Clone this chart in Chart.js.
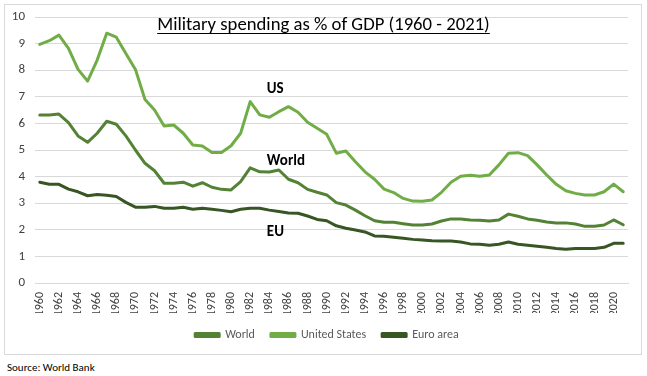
<!DOCTYPE html>
<html><head><meta charset="utf-8">
<script src="https://cdn.jsdelivr.net/npm/chart.js@4.4.1/dist/chart.umd.min.js"></script>
<style>
html,body{margin:0;padding:0;background:#fff;width:647px;height:376px;overflow:hidden;font-family:Carlito,Lato,sans-serif;}
#box{position:absolute;left:4px;top:4px;width:636px;height:349px;border:1px solid #d9d9d9;}
#wrap{position:absolute;left:0;top:0;width:636px;height:349px;}
#title{position:absolute;left:0;width:647px;top:12px;text-align:center;font-size:18.7px;color:#000;text-decoration:underline;text-underline-offset:3px;text-decoration-thickness:1px;}
#source{position:absolute;left:7px;top:361px;font-size:11px;color:#000;}
</style></head>
<body>
<div id="box"><div id="wrap"><canvas id="c" width="636" height="349"></canvas></div></div>
<div id="title">Military spending as % of GDP (1960 - 2021)</div>
<div id="source">Source: World Bank</div>
<script>
const years = [];
for (let y = 1960; y <= 2021; y++) years.push(String(y));
const world = [6.32,6.32,6.35,6.03,5.53,5.29,5.63,6.08,5.97,5.53,5.00,4.50,4.22,3.75,3.75,3.79,3.64,3.77,3.60,3.52,3.50,3.81,4.33,4.18,4.17,4.25,3.90,3.77,3.52,3.41,3.31,3.02,2.93,2.74,2.53,2.34,2.28,2.28,2.23,2.18,2.18,2.22,2.33,2.41,2.41,2.37,2.36,2.33,2.37,2.59,2.51,2.41,2.36,2.29,2.26,2.26,2.22,2.13,2.13,2.18,2.37,2.19];
const us = [8.97,9.11,9.32,8.82,8.03,7.59,8.38,9.39,9.24,8.63,8.03,6.90,6.50,5.90,5.94,5.63,5.19,5.15,4.91,4.91,5.16,5.63,6.82,6.32,6.23,6.44,6.63,6.42,6.04,5.82,5.59,4.88,4.96,4.56,4.18,3.90,3.53,3.40,3.18,3.08,3.07,3.12,3.41,3.79,4.01,4.05,4.01,4.06,4.44,4.88,4.90,4.79,4.44,4.06,3.71,3.47,3.37,3.31,3.31,3.43,3.72,3.43];
const euro = [3.79,3.71,3.71,3.53,3.43,3.28,3.33,3.30,3.25,3.03,2.85,2.85,2.88,2.81,2.81,2.85,2.77,2.81,2.77,2.73,2.68,2.77,2.81,2.81,2.74,2.69,2.63,2.62,2.52,2.39,2.34,2.15,2.06,1.99,1.92,1.77,1.76,1.72,1.68,1.64,1.62,1.59,1.58,1.58,1.54,1.47,1.46,1.42,1.46,1.54,1.46,1.42,1.38,1.34,1.30,1.27,1.30,1.30,1.30,1.34,1.49,1.49];
const yTicks = [0,1,2,3,4,5,6,7,8,9,10];
const seriesNames = ['World','United States','Euro area'];
const annLabels = ['US','World','EU'];
const annYears = ['1984','1984','1984'];
const annValues = [7.27,4.59,1.92];

const FONT = 'Carlito, Lato, sans-serif';
const colors = ['#548235','#70ad47','#375623'];

const annotPlugin = {
  id:'annot',
  afterDatasetsDraw(chart){
    const ctx = chart.ctx, xs = chart.scales.x, ys = chart.scales.y;
    ctx.save();
    ctx.font = 'bold 15px ' + FONT;
    ctx.fillStyle = '#000';
    ctx.textAlign = 'left';
    ctx.textBaseline = 'middle';
    annLabels.forEach((t,i)=>{
      ctx.fillText(t, xs.getPixelForValue(years.indexOf(annYears[i])) - 2.5, ys.getPixelForValue(annValues[i]));
    });
    ctx.restore();
  }
};

new Chart(document.getElementById('c'), {
  type:'line',
  data:{
    labels: years,
    datasets:[
      {label:seriesNames[0], data:world, borderColor:colors[0], backgroundColor:colors[0]},
      {label:seriesNames[1], data:us, borderColor:colors[1], backgroundColor:colors[1]},
      {label:seriesNames[2], data:euro, borderColor:colors[2], backgroundColor:colors[2]}
    ]
  },
  options:{
    responsive:false,
    animation:false,
    events:[],
    layout:{autoPadding:false,padding:{top:12,right:0,left:8,bottom:3}},
    elements:{line:{borderWidth:3,tension:0,borderCapStyle:'round',borderJoinStyle:'round'},point:{radius:0}},
    plugins:{
      legend:{
        position:'bottom',
        labels:{boxWidth:24,boxHeight:3,padding:16,color:'#595959',font:{family:FONT,size:12}}
      },
      tooltip:{enabled:false},
      title:{display:false}
    },
    scales:{
      x:{
        offset:true,
        grid:{display:false, drawTicks:false},
        border:{display:true,color:'#d9d9d9'},
        ticks:{autoSkip:false,maxRotation:90,minRotation:90,padding:9,color:'#404040',font:{family:FONT,size:12},
          callback:function(v,i){return i%2===0? years[i] : '';}},
        afterFit(s){s.height = 30; s.paddingLeft = 0; s.paddingRight = 13;}
      },
      y:{
        min:0,max:10,
        afterBuildTicks(s){s.ticks = yTicks.map(v=>({value:v}));},
        grid:{color:'#d9d9d9',drawTicks:false},
        border:{display:false},
        ticks:{padding:10,color:'#404040',font:{family:FONT,size:13}},
        afterFit(s){s.width = 22; s.paddingTop = 0; s.paddingBottom = 0;}
      }
    }
  },
  plugins:[annotPlugin]
});
</script>
</body></html>
